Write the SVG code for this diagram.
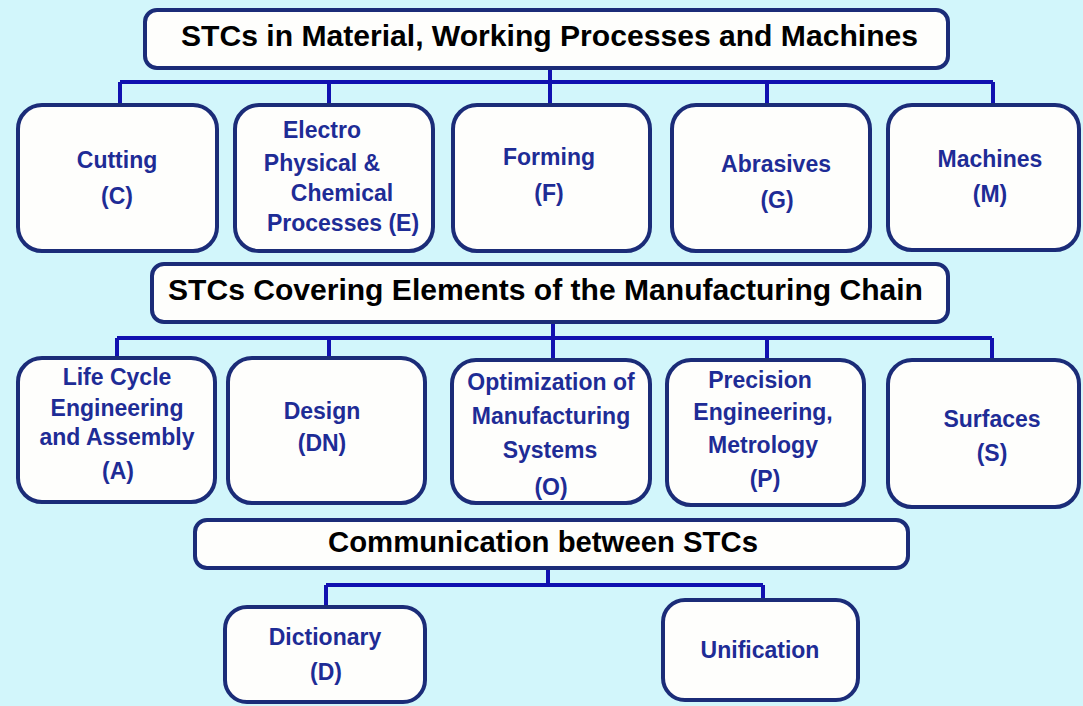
<svg xmlns="http://www.w3.org/2000/svg" width="1083" height="706" viewBox="0 0 1083 706">
<style>
.bg{fill:#d2f6fb}
.title rect{fill:#fefefc;stroke:#1b2c78;stroke-width:4}
.node rect{fill:#fefefc;stroke:#1b2c78;stroke-width:4}
.title text{font-family:"Liberation Sans",Arial,sans-serif;font-weight:bold;font-size:29px;fill:#000;text-anchor:middle}
.node text{font-family:"Liberation Sans",Arial,sans-serif;font-weight:bold;font-size:23px;fill:#1e2c96;text-anchor:middle}
#connectors path{fill:none;stroke:#1111b0;stroke-width:4}
</style>
<rect class="bg" x="0" y="0" width="1083" height="706"/>
<g id="connectors">
<path d="M120,82 H993 M120,82 V105 M329,82 V105 M550,68 V105 M767,82 V105 M993,82 V105"/>
<path d="M117,338 H992 M117,338 V358 M329,338 V358 M553,322 V358 M767,338 V358 M992,338 V360"/>
<path d="M326,585 H763 M548,568 V585 M326,585 V607 M763,585 V600"/>
</g>
<g id="title1" class="title"><rect x="145" y="10" width="803" height="58" rx="12"/><text x="549.5" y="46" textLength="737" lengthAdjust="spacingAndGlyphs">STCs in Material, Working Processes and Machines</text></g>
<g id="cutting" class="node"><rect x="18" y="105" width="199" height="146" rx="24"/><text x="117" y="168">Cutting</text><text x="117" y="204">(C)</text></g>
<g id="electro" class="node"><rect x="235" y="105" width="198" height="146" rx="24"/><text x="322" y="138">Electro</text><text x="322" y="171">Physical &amp;</text><text x="342" y="201">Chemical</text><text x="343" y="231">Processes (E)</text></g>
<g id="forming" class="node"><rect x="453" y="105" width="197" height="146" rx="24"/><text x="549" y="165">Forming</text><text x="549" y="201">(F)</text></g>
<g id="abrasives" class="node"><rect x="672" y="105" width="198" height="146" rx="24"/><text x="776" y="172">Abrasives</text><text x="777" y="208">(G)</text></g>
<g id="machines" class="node"><rect x="888" y="105" width="191" height="145" rx="24"/><text x="990" y="167">Machines</text><text x="990" y="202">(M)</text></g>
<g id="title2" class="title"><rect x="152" y="264" width="796" height="58" rx="12"/><text x="545.5" y="300" textLength="755" lengthAdjust="spacingAndGlyphs">STCs Covering Elements of the Manufacturing Chain</text></g>
<g id="lifecycle" class="node"><rect x="18" y="358" width="197" height="144" rx="24"/><text x="117" y="385">Life Cycle</text><text x="117" y="416">Engineering</text><text x="117" y="445">and Assembly</text><text x="118" y="479">(A)</text></g>
<g id="design" class="node"><rect x="228" y="358" width="197" height="145" rx="24"/><text x="322" y="419">Design</text><text x="322" y="451">(DN)</text></g>
<g id="optimization" class="node"><rect x="452" y="360" width="198" height="143" rx="24"/><text x="551" y="390">Optimization of</text><text x="551" y="424">Manufacturing</text><text x="550" y="458">Systems</text><text x="551" y="495">(O)</text></g>
<g id="precision" class="node"><rect x="667" y="360" width="197" height="145" rx="24"/><text x="760" y="388">Precision</text><text x="763" y="420">Engineering,</text><text x="763" y="453">Metrology</text><text x="765" y="487">(P)</text></g>
<g id="surfaces" class="node"><rect x="888" y="360" width="191" height="147" rx="24"/><text x="992" y="427">Surfaces</text><text x="992" y="461">(S)</text></g>
<g id="title3" class="title"><rect x="195" y="520" width="713" height="48" rx="12"/><text x="543" y="552" textLength="430" lengthAdjust="spacingAndGlyphs">Communication between STCs</text></g>
<g id="dictionary" class="node"><rect x="225" y="607" width="200" height="95" rx="22"/><text x="325" y="645">Dictionary</text><text x="326" y="680">(D)</text></g>
<g id="unification" class="node"><rect x="663" y="600" width="195" height="100" rx="22"/><text x="760" y="658">Unification</text></g>
</svg>
